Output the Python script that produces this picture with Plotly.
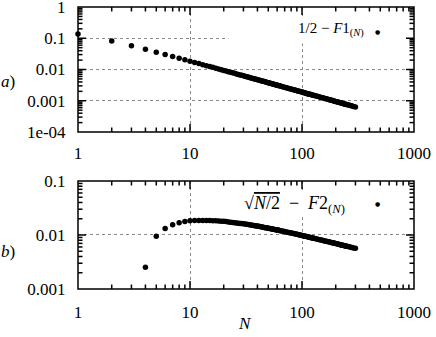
import math
import plotly.graph_objects as go

# ---- data ----
N_top = list(range(1, 65)) + list(range(66, 129, 2)) + list(range(132, 257, 4)) + [264, 272, 280, 288, 300]
F1_diff = [
    0.138, 0.082, 0.0575, 0.0443, 0.0359, 0.0302, 0.0261, 0.0229, 0.0205, 0.0185,
    0.0168, 0.0155, 0.0143, 0.0133, 0.0124, 0.0117, 0.0110, 0.0104, 0.00986, 0.00937,
    0.00893, 0.00853, 0.00816, 0.00783, 0.00752, 0.00723, 0.00697, 0.00672, 0.00649, 0.00628,
    0.00608, 0.00589, 0.00571, 0.00554, 0.00539, 0.00524, 0.00510, 0.00496, 0.00484, 0.00472,
    0.00460, 0.00449, 0.00439, 0.00429, 0.00420, 0.00411, 0.00402, 0.00394, 0.00386, 0.00378,
    0.00371, 0.00363, 0.00357, 0.00350, 0.00344, 0.00338, 0.00332, 0.00326, 0.00321, 0.00315,
    0.00310, 0.00305, 0.00300, 0.00296,
    0.00287, 0.00278, 0.00270, 0.00263, 0.00256, 0.00249, 0.00243, 0.00237, 0.00231, 0.00225,
    0.00220, 0.00215, 0.00210, 0.00206, 0.00201, 0.00197, 0.00193, 0.00189, 0.00186, 0.00182,
    0.00179, 0.00175, 0.00172, 0.00169, 0.00166, 0.00163, 0.00161, 0.00158, 0.00155, 0.00153,
    0.00150, 0.00148,
    0.00144, 0.00140, 0.00136, 0.00132, 0.00128, 0.00125, 0.00122, 0.00119, 0.00116, 0.00113,
    0.00110, 0.00108, 0.00106, 0.00103, 0.00101, 0.000990, 0.000969, 0.000950, 0.000931, 0.000913,
    0.000896, 0.000880, 0.000864, 0.000848, 0.000833, 0.000819, 0.000805, 0.000792, 0.000779, 0.000766,
    0.000754, 0.000742,
    0.000720, 0.000699, 0.000679, 0.000660, 0.000633,
]

N_bot = list(range(4, 65)) + list(range(66, 129, 2)) + list(range(132, 257, 4)) + [264, 272, 280, 288, 300]
F2_diff = [
    0.00253, 0.00944, 0.0132, 0.0155, 0.0169, 0.0178, 0.0183,
    0.0185, 0.0186, 0.0186, 0.0186, 0.0185, 0.0184, 0.0183, 0.0182, 0.0180, 0.0179, 0.0177,
    0.01748, 0.01728, 0.01708, 0.01690, 0.01672, 0.01656, 0.01640, 0.01625, 0.0161,
    0.01592, 0.01575, 0.01559, 0.01543, 0.01528, 0.01514, 0.01500, 0.01486, 0.01473, 0.0146,
    0.01446, 0.01432, 0.01418, 0.01405, 0.01393, 0.01380, 0.01368, 0.01357, 0.01345, 0.01334,
    0.01324, 0.01313, 0.01303, 0.01294, 0.01284, 0.01275, 0.01266, 0.01257, 0.01249, 0.0124,
    0.01231, 0.01222, 0.01213, 0.01204,
    0.01187, 0.01171, 0.01155, 0.01140, 0.01126, 0.01112, 0.01099, 0.01086, 0.01074, 0.01062,
    0.01050, 0.01039, 0.01028, 0.01018, 0.01008, 0.00998, 0.00989, 0.0098, 0.00970, 0.00961,
    0.00952, 0.00943, 0.00934, 0.00926, 0.00918, 0.00910, 0.00902, 0.00895, 0.00887, 0.00880,
    0.00873, 0.00866,
    0.00853, 0.00840, 0.00828, 0.00817, 0.00806, 0.00795, 0.00785, 0.00775, 0.00765, 0.00756,
    0.00747, 0.00739, 0.00730, 0.00722, 0.00715, 0.00707, 0.00700, 0.00693, 0.00686, 0.00680,
    0.00673, 0.00667, 0.00661, 0.00655, 0.00649, 0.00643, 0.00638, 0.00633, 0.00627, 0.00622,
    0.00617, 0.00613,
    0.00603, 0.00594, 0.00586, 0.00577, 0.00566,
]

x_ticks = [1, 10, 100, 1000]
x_ticklabels = ["1", "10", "100", "1000"]
y1_ticks = [1, 0.1, 0.01, 0.001, 0.0001]
y1_ticklabels = ["1", "0.1", "0.01", "0.001", "1e-04"]
y2_ticks = [0.1, 0.01, 0.001]
y2_ticklabels = ["0.1", "0.01", "0.001"]

label_top = "1/2 − <i>F</i>1<sub>(<i>N</i>)</sub>"
label_bot = ("√<span style='text-decoration:overline'><i>N</i>/2</span>&nbsp;&nbsp;−&nbsp;&nbsp;"
             "<i>F</i>2<sub>(<i>N</i>)</sub>")

FONT = "Liberation Serif"
X_RANGE = [0, 3]
Y1_RANGE = [-4, 0]
Y2_RANGE = [-3, -1]

W, H = 436, 337
ML, MR, MT, MB = 78, 22, 7, 48
PLOT_W = W - ML - MR
PLOT_H = H - MT - MB
Y1_DOMAIN = [0.5567, 1]
Y2_DOMAIN = [0, 0.383]


def minor_vals(lo_exp, hi_exp):
    return [m * 10 ** e for e in range(lo_exp, hi_exp) for m in range(2, 10)]


fig = go.Figure()
fig.add_trace(go.Scatter(x=N_top, y=F1_diff, mode="markers", xaxis="x", yaxis="y",
                         marker=dict(color="black", size=5.5), name="top"))
fig.add_trace(go.Scatter(x=N_bot, y=F2_diff, mode="markers", xaxis="x2", yaxis="y2",
                         marker=dict(color="black", size=5.5), name="bottom"))
fig.update_traces(cliponaxis=False)

TICKFONT = dict(family=FONT, size=17, color="black")


def base_axis(rng, tickvals, ticktext, standoff, **kw):
    d = dict(type="log", range=rng, tickmode="array", tickvals=tickvals, ticktext=ticktext,
             showline=False, automargin=False, ticklabeloverflow="allow",
             # invisible outside ticks only serve to keep the labels off the frame
             ticks="outside", ticklen=standoff, tickcolor="rgba(0,0,0,0)",
             showgrid=True, gridcolor="#8a8a8a", griddash="dot", gridwidth=1,
             zeroline=False, tickfont=TICKFONT)
    d.update(kw)
    return d


fig.update_layout(
    width=W, height=H,
    margin=dict(l=ML, r=MR, t=MT, b=MB, autoexpand=False),
    paper_bgcolor="white", plot_bgcolor="white",
    showlegend=False,
    font=dict(family=FONT, color="black", size=17),
    xaxis=base_axis(X_RANGE, x_ticks, x_ticklabels, 6, domain=[0, 1], anchor="y"),
    yaxis=base_axis(Y1_RANGE, y1_ticks, y1_ticklabels, 8, domain=Y1_DOMAIN, anchor="x"),
    xaxis2=base_axis(X_RANGE, x_ticks, x_ticklabels, 8, domain=[0, 1], anchor="y2"),
    yaxis2=base_axis(Y2_RANGE, y2_ticks, y2_ticklabels, 8, domain=Y2_DOMAIN, anchor="x2"),
)

# frame + inside ticks (major 8 px, minor 4.5 px, on all four sides) of each panel
shapes = []
panels = (("x domain", "y domain", Y1_RANGE, y1_ticks, Y1_DOMAIN),
          ("x2 domain", "y2 domain", Y2_RANGE, y2_ticks, Y2_DOMAIN))
for xr, yr, yrng, ymaj, ydom in panels:
    panel_h = (ydom[1] - ydom[0]) * PLOT_H
    shapes.append(dict(type="rect", xref=xr, yref=yr, x0=0, x1=1, y0=0, y1=1,
                       line=dict(color="black", width=1.5), fillcolor="rgba(0,0,0,0)", layer="above"))
    xt = [(v, 8) for v in x_ticks] + [(v, 4.5) for v in minor_vals(X_RANGE[0], X_RANGE[1])]
    for v, ln in xt:
        f = (math.log10(v) - X_RANGE[0]) / (X_RANGE[1] - X_RANGE[0])
        if f <= 0.001 or f >= 0.999:
            continue
        d = ln / panel_h
        for y0, y1 in ((0, d), (1, 1 - d)):
            shapes.append(dict(type="line", xref=xr, yref=yr, x0=f, x1=f, y0=y0, y1=y1,
                               line=dict(color="black", width=1.5), layer="above"))
    yt = [(v, 8) for v in ymaj] + [(v, 4.5) for v in minor_vals(yrng[0], yrng[1])]
    for v, ln in yt:
        f = (math.log10(v) - yrng[0]) / (yrng[1] - yrng[0])
        if f <= 0.001 or f >= 0.999:
            continue
        d = ln / PLOT_W
        for x0, x1 in ((0, d), (1, 1 - d)):
            shapes.append(dict(type="line", xref=xr, yref=yr, x0=x0, x1=x1, y0=f, y1=f,
                               line=dict(color="black", width=1.5), layer="above"))
fig.update_layout(shapes=shapes)

# key background boxes (blank the grid behind each key, as gnuplot does)
fig.add_annotation(text=" ", xref="paper", yref="paper",
                   x=(228 - ML) / PLOT_W, y=(289 - 16) / PLOT_H, xanchor="left", yanchor="top",
                   width=176, height=26, bgcolor="white", borderpad=0, showarrow=False)
fig.add_annotation(text=" ", xref="paper", yref="paper",
                   x=(220 - ML) / PLOT_W, y=(289 - 190) / PLOT_H, xanchor="left", yanchor="top",
                   width=184, height=24, bgcolor="white", borderpad=0, showarrow=False)

fig.add_annotation(text=label_top, xref="paper", yref="paper", x=(366 - ML) / PLOT_W, y=(289 - 29) / PLOT_H,
                   xanchor="right", yanchor="middle", showarrow=False,
                   font=dict(family=FONT, size=15, color="black"))
fig.add_annotation(text=label_bot, xref="paper", yref="paper", x=(347 - ML) / PLOT_W, y=(289 - 204) / PLOT_H,
                   xanchor="right", yanchor="middle", showarrow=False,
                   font=dict(family=FONT, size=18, color="black"))
# key samples
for yp in (31, 203.5):
    fig.add_annotation(text="●", xref="paper", yref="paper", x=(377 - ML) / PLOT_W, y=(289 - yp) / PLOT_H,
                       xanchor="center", yanchor="middle", showarrow=False,
                       font=dict(family="DejaVu Sans", size=6, color="black"))

fig.add_annotation(text="<i>a</i>)", xref="paper", yref="paper", x=(8 - ML) / PLOT_W, y=(289 - 81) / PLOT_H,
                   xanchor="center", yanchor="middle", showarrow=False,
                   font=dict(family=FONT, size=17, color="black"))
fig.add_annotation(text="<i>b</i>)", xref="paper", yref="paper", x=(8 - ML) / PLOT_W, y=(289 - 251) / PLOT_H,
                   xanchor="center", yanchor="middle", showarrow=False,
                   font=dict(family=FONT, size=17, color="black"))
fig.add_annotation(text="<i>N</i>", xref="paper", yref="paper", x=(245 - ML) / PLOT_W, y=(289 - 323) / PLOT_H,
                   xanchor="center", yanchor="middle", showarrow=False,
                   font=dict(family=FONT, size=17, color="black"))

fig.write_html("out.html", config={"displayModeBar": False},
               post_script="document.body.style.margin='0';")
